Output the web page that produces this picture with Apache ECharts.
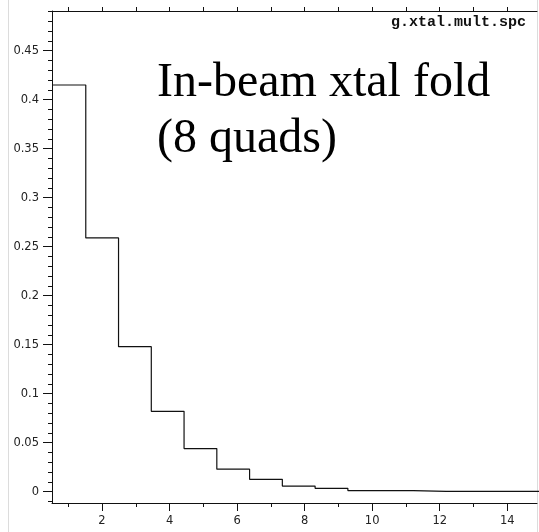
<!DOCTYPE html>
<html>
<head>
<meta charset="utf-8">
<script src="https://cdn.jsdelivr.net/npm/echarts@6/dist/echarts.min.js"></script>
<style>html,body{margin:0;padding:0;background:#fff;}#c{width:539px;height:532px;}</style>
</head>
<body>
<div id="c"></div>
<script>
// Histogram bin edges (x) and bin contents (y)
var binEdges = [0.55, 1.52, 2.49, 3.46, 4.43, 5.40, 6.37, 7.34, 8.31, 9.28, 10.25, 11.22, 12.19, 13.16, 14.13, 15.10];
var binValues = [0.415, 0.259, 0.148, 0.082, 0.044, 0.023, 0.0127, 0.0058, 0.0035, 0.0012, 0.0012, 0.0003, 0.0003, 0.0003, 0.0003];
var xMajorTicks = [2, 4, 6, 8, 10, 12, 14];
var xMinorTicks = [1, 3, 5, 7, 9, 11, 13];
var xTopTicks = [1, 2, 3, 4, 5, 6, 7, 8, 9, 10, 11, 12, 13, 14];
var yMajorTicks = [0, 0.05, 0.1, 0.15, 0.2, 0.25, 0.3, 0.35, 0.4, 0.45];
var yMinorTicks = [-0.01, 0.01, 0.02, 0.03, 0.04, 0.06, 0.07, 0.08, 0.09, 0.11, 0.12, 0.13, 0.14, 0.16, 0.17, 0.18, 0.19, 0.21, 0.22, 0.23, 0.24, 0.26, 0.27, 0.28, 0.29, 0.31, 0.32, 0.33, 0.34, 0.36, 0.37, 0.38, 0.39, 0.41, 0.42, 0.43, 0.44, 0.46, 0.47, 0.48, 0.49];
var chartLabel = 'In-beam xtal fold\n(8 quads)';
var fileLabel = 'g.xtal.mult.spc';

var stepData = [];
for (var i = 0; i < binValues.length; i++) stepData.push([binEdges[i], binValues[i]]);
stepData.push([binEdges[binValues.length], binValues[binValues.length - 1]]);

var X_MIN = 0.52, X_MAX = 14.88, Y_MIN = -0.0115, Y_MAX = 0.4905;
var axisCol = '#111';
var labelStyle = { fontFamily: 'DejaVu Sans', fontSize: 11.5, color: '#222' };

function fmtY(v) { return String(+v.toFixed(2)); }

var chart = echarts.init(document.getElementById('c'), null, { renderer: 'canvas' });
chart.setOption({
  animation: false,
  backgroundColor: '#fff',
  grid: { left: 52, right: 2, top: 11, bottom: 29, outerBoundsMode: 'none', containLabel: false },
  title: [
    { text: chartLabel, left: 157, top: 55, padding: 0,
      textStyle: { fontFamily: 'Liberation Serif', fontSize: 48, fontWeight: 'normal', color: '#000', lineHeight: 56 } },
    { text: fileLabel, right: 13, top: 15, padding: 0,
      textStyle: { fontFamily: 'Liberation Mono', fontSize: 15, fontWeight: 'bold', color: '#111' } }
  ],
  xAxis: [
    { type: 'value', position: 'bottom', min: X_MIN, max: X_MAX,
      axisLine: { show: true, onZero: false, lineStyle: { color: axisCol, width: 1 } },
      axisTick: { show: true, length: 8, customValues: xMajorTicks, lineStyle: { color: axisCol } },
      axisLabel: Object.assign({ show: true, margin: 12, customValues: xMajorTicks }, labelStyle),
      splitLine: { show: false } },
    { type: 'value', position: 'bottom', min: X_MIN, max: X_MAX,
      axisLine: { show: false, onZero: false },
      axisTick: { show: true, length: 4, customValues: xMinorTicks, lineStyle: { color: axisCol } },
      axisLabel: { show: false }, splitLine: { show: false } },
    { type: 'value', position: 'top', min: X_MIN, max: X_MAX,
      axisLine: { show: true, onZero: false, lineStyle: { color: axisCol, width: 1 } },
      axisTick: { show: true, length: 4, customValues: xTopTicks, lineStyle: { color: axisCol } },
      axisLabel: { show: false }, splitLine: { show: false } }
  ],
  yAxis: [
    { type: 'value', position: 'left', min: Y_MIN, max: Y_MAX,
      axisLine: { show: true, onZero: false, lineStyle: { color: axisCol, width: 1 } },
      axisTick: { show: true, length: 9, customValues: yMajorTicks, lineStyle: { color: axisCol } },
      axisLabel: Object.assign({ show: true, margin: 13, customValues: yMajorTicks, formatter: fmtY }, labelStyle),
      splitLine: { show: false } },
    { type: 'value', position: 'left', min: Y_MIN, max: Y_MAX,
      axisLine: { show: false, onZero: false },
      axisTick: { show: true, length: 4, customValues: yMinorTicks, lineStyle: { color: axisCol } },
      axisLabel: { show: false }, splitLine: { show: false } }
  ],
  graphic: [
    { type: 'line', shape: { x1: 8.5, y1: 0, x2: 8.5, y2: 532 }, style: { stroke: '#dcdcdc', lineWidth: 1 }, silent: true },
    { type: 'line', shape: { x1: 537.5, y1: 0, x2: 537.5, y2: 532 }, style: { stroke: '#dcdcdc', lineWidth: 1 }, silent: true }
  ],
  series: [
    { type: 'line', xAxisIndex: 0, yAxisIndex: 0, data: stepData, step: 'end',
      showSymbol: false, symbol: 'none', clip: true,
      lineStyle: { color: '#111', width: 1.2 } }
  ]
});
</script>
</body>
</html>
